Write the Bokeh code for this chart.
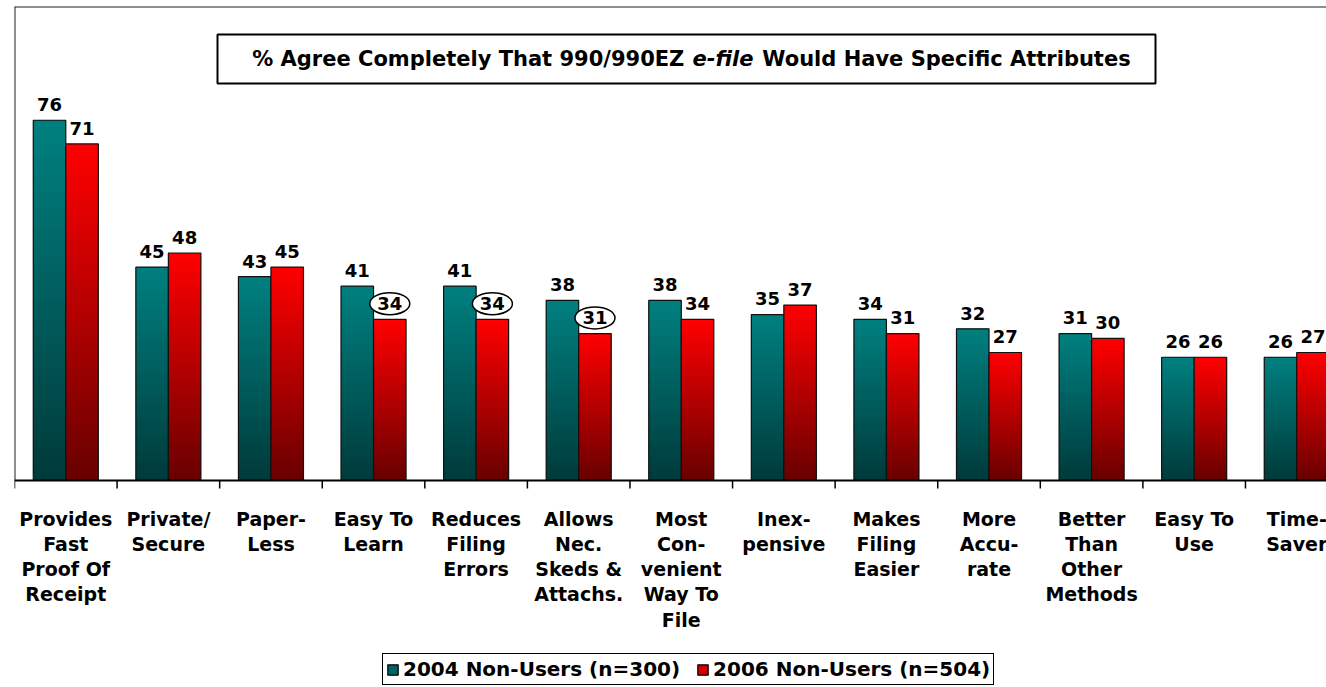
from bokeh.plotting import figure
from bokeh.models import (Range1d, Span, BoxAnnotation, Label,
                          Legend, LegendItem, ColumnDataSource)
from bokeh.core.properties import value
from bokeh.embed import file_html
from bokeh.resources import INLINE

# ---------------- data ----------------
categories = ["Provides\nFast\nProof Of\nReceipt", "Private/\nSecure", "Paper-\nLess",
              "Easy To\nLearn", "Reduces\nFiling\nErrors", "Allows\nNec.\nSkeds &\nAttachs.",
              "Most\nCon-\nvenient\nWay To\nFile", "Inex-\npensive", "Makes\nFiling\nEasier",
              "More\nAccu-\nrate", "Better\nThan\nOther\nMethods", "Easy To\nUse", "Time-\nSaver"]
nonusers_2004 = [76, 45, 43, 41, 41, 38, 38, 35, 34, 32, 31, 26, 26]
nonusers_2006 = [71, 48, 45, 34, 34, 31, 34, 37, 31, 27, 30, 26, 27]
circled_2006 = [False, False, False, True, True, True, False, False, False, False, False, False, False]
series_names = ["2004 Non-Users (n=300)", "2006 Non-Users (n=504)"]
title_parts = ["% Agree Completely That 990/990EZ", "e-file", "Would Have Specific Attributes"]

# ---------------- style ----------------
FONT = "DejaVu Sans"
FS = "18px"
FS_AX = "19px"
FS_LEG = "20px"
FS_TITLE = "21px"
teal_top, teal_bot = (0, 128, 128), (0, 58, 58)
red_top, red_bot = (255, 0, 0), (104, 0, 0)
BAR_W = 0.317
N_SLICES = 60
PX_PER_UNIT = 4.74          # vertical scale: pixels per percentage point
Y_BOTTOM = -207 / PX_PER_UNIT  # room below the category axis for labels and legend

n = len(categories)
p = figure(frame_width=1312, frame_height=681, output_backend="svg", toolbar_location=None,
           x_range=Range1d(0, 12.79), y_range=Range1d(Y_BOTTOM, 100),
           x_axis_location=None, y_axis_location=None,
           min_border_left=14, min_border_right=0, min_border_top=6, min_border_bottom=0)
p.outline_line_color = None
p.background_fill_color = "white"
p.border_fill_color = "white"
p.xgrid.visible = False
p.ygrid.visible = False


def lerp(c0, c1, t):
    return "#%02x%02x%02x" % tuple(int(round(a + (b - a) * t)) for a, b in zip(c0, c1))


def draw_series(vals, offset, ctop, cbot):
    L, R, B, T, C = [], [], [], [], []
    for i, v in enumerate(vals):
        left = i + 0.5 + offset
        for k in range(N_SLICES):
            L.append(left)
            R.append(left + BAR_W)
            B.append(v * k / N_SLICES)
            T.append(min(v, v * (k + 2) / N_SLICES))
            C.append(lerp(cbot, ctop, (k + 0.5) / N_SLICES))
    p.quad(left=L, right=R, bottom=B, top=T, fill_color=C, line_color=None)
    lefts = [i + 0.5 + offset for i in range(len(vals))]
    p.quad(left=lefts, right=[l + BAR_W for l in lefts], bottom=0, top=vals,
           fill_color=None, line_color="#111111", line_width=1.2)


draw_series(nonusers_2004, -BAR_W, teal_top, teal_bot)
draw_series(nonusers_2006, 0, red_top, red_bot)

LABEL_LIFT = 3.3

# circles around some 2006 labels
cx = [i + 0.5 + BAR_W / 2 for i in range(n) if circled_2006[i]]
cy = [nonusers_2006[i] + LABEL_LIFT for i in range(n) if circled_2006[i]]
p.ellipse(x=cx, y=cy, width=40, height=22, width_units="screen", height_units="screen",
          fill_color="white", line_color="black", line_width=1.5)

# value labels
for vals, off in ((nonusers_2004, -BAR_W / 2), (nonusers_2006, BAR_W / 2)):
    src = ColumnDataSource(dict(x=[i + 0.5 + off for i in range(n)],
                                y=[v + LABEL_LIFT for v in vals],
                                t=[str(v) for v in vals]))
    p.text(x="x", y="y", text="t", source=src, text_align="center", text_baseline="middle",
           text_font=value(FONT), text_font_size=FS, text_font_style="bold", text_color="black")

# chart frame (left and top) and category axis (line, boundary ticks, labels)
p.segment(x0=[0], y0=[0], x1=[0], y1=[100], line_color="#1a1f2e", line_width=2)
p.add_layout(Span(location=100, dimension="width", line_color="#1a1f2e", line_width=2))
p.add_layout(Span(location=0, dimension="width", line_color="black", line_width=2))
bounds = list(range(n + 1))
p.segment(x0=bounds, y0=[0] * len(bounds), x1=bounds, y1=[-8 / PX_PER_UNIT] * len(bounds),
          line_color="black", line_width=1.5)
cat_src = ColumnDataSource(dict(x=[i + 0.5 for i in range(n)],
                                y=[-27 / PX_PER_UNIT] * n, t=categories))
p.text(x="x", y="y", text="t", source=cat_src, text_align="center", text_baseline="top",
       text_font=value(FONT), text_font_size=FS_AX, text_font_style="bold", text_color="black",
       text_line_height=1.15)

# title box
p.add_layout(BoxAnnotation(left=1.979, right=11.123, bottom=83.76, top=94.09,
                           fill_color="white", fill_alpha=1.0,
                           line_color="black", line_alpha=1.0, line_width=2))
ty = 88.9
p.add_layout(Label(x=6.53, y=ty, text=title_parts[0], text_align="right", text_baseline="middle",
                   text_font=FONT, text_font_size=FS_TITLE, text_font_style="bold", text_color="black"))
p.add_layout(Label(x=6.61, y=ty, text=title_parts[1], text_align="left", text_baseline="middle",
                   text_font=FONT, text_font_size=FS_TITLE, text_font_style="bold italic", text_color="black"))
p.add_layout(Label(x=7.29, y=ty, text=title_parts[2], text_align="left", text_baseline="middle",
                   text_font=FONT, text_font_size=FS_TITLE, text_font_style="bold", text_color="black"))

# legend (area renderers placed outside the visible range, used only as legend swatches)
r1 = p.quad(left=[-11], right=[-10], bottom=[-101], top=[-100],
            fill_color=lerp(teal_bot, teal_top, 0.6), line_color="black", line_width=1.2)
r2 = p.quad(left=[-11], right=[-10], bottom=[-101], top=[-100],
            fill_color=lerp(red_bot, red_top, 0.7), line_color="black", line_width=1.2)
legend = Legend(items=[LegendItem(label=series_names[0], renderers=[r1]),
                       LegendItem(label=series_names[1], renderers=[r2])],
                orientation="horizontal", location=(368, 2),
                border_line_color="black", border_line_width=1.5, border_line_alpha=1.0,
                label_text_font=FONT, label_text_font_size=FS_LEG, label_text_font_style="bold",
                label_text_color="black", glyph_width=13, glyph_height=13,
                label_standoff=4, spacing=16, padding=3, margin=0)
p.add_layout(legend, "center")

open("out.html", "w").write(file_html(p, INLINE))
